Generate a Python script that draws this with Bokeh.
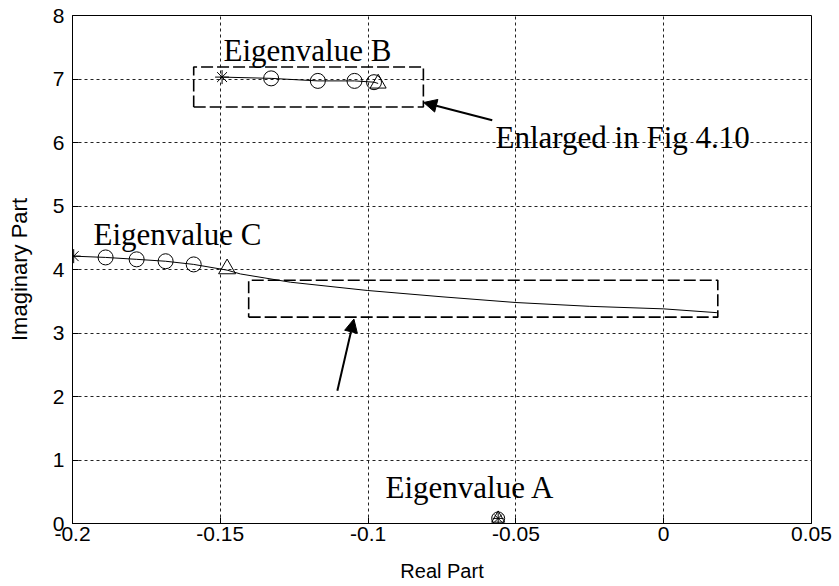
from bokeh.plotting import figure
from bokeh.models import Range1d, Arrow, NormalHead, FixedTicker
from bokeh.core.properties import value
from bokeh.embed import file_html
from bokeh.resources import INLINE

# ---- data ----
# Eigenvalue C trajectory (solid line)
c_line_x = [-0.1996, -0.1888, -0.1783, -0.1685, -0.159, -0.1477, -0.1432, -0.1263, -0.1003, -0.075, -0.05, -0.025, 0.0, 0.018]
c_line_y = [4.21, 4.19, 4.16, 4.13, 4.08, 3.99, 3.93, 3.80, 3.67, 3.57, 3.48, 3.42, 3.38, 3.32]
c_star = ([-0.1996], [4.21])
c_circ_x = [-0.1888, -0.1783, -0.1685, -0.159]
c_circ_y = [4.19, 4.16, 4.13, 4.08]
c_tri = ([-0.1477], [4.01])

# Eigenvalue B trajectory
b_line_x = [-0.1494, -0.1328, -0.117, -0.1046, -0.098, -0.0966]
b_line_y = [7.03, 7.01, 6.97, 6.97, 6.95, 6.93]
b_star = ([-0.1494], [7.03])
b_circ_x = [-0.1328, -0.117, -0.1046, -0.098]
b_circ_y = [7.01, 6.97, 6.97, 6.95]
b_tri = ([-0.0966], [6.93])

# Eigenvalue A (all markers coincide)
a_x = [-0.056]
a_y = [0.08]

# Dashed boxes [x0, x1, y0, y1]
box_b = [-0.159, -0.0813, 6.56, 7.19]
box_c = [-0.1404, 0.0183, 3.25, 3.83]

# Annotations
label_text = ["Eigenvalue B", "Enlarged in Fig 4.10", "Eigenvalue C", "Eigenvalue A"]
label_x = [-0.1489, -0.0569, -0.1929, -0.0941]
label_y = [7.45, 6.08, 4.55, 0.57]

x_ticks = [-0.2, -0.15, -0.1, -0.05, 0.0, 0.05]
x_tick_labels = ["-0.2", "-0.15", "-0.1", "-0.05", "0", "0.05"]
y_ticks = [0, 1, 2, 3, 4, 5, 6, 7, 8]

# ---- figure ----
p = figure(width=839, height=586, output_backend="svg", toolbar_location=None,
           x_range=Range1d(-0.2, 0.05), y_range=Range1d(0, 8),
           min_border_left=72, min_border_right=28, min_border_top=15, min_border_bottom=63,
           background_fill_color="white", border_fill_color="white")

p.outline_line_color = "black"
p.outline_line_width = 1

p.xaxis.ticker = FixedTicker(ticks=x_ticks)
p.xaxis.major_label_overrides = {t: l for t, l in zip(x_ticks, x_tick_labels)}
p.yaxis.ticker = FixedTicker(ticks=y_ticks)

for ax in (p.xaxis, p.yaxis):
    ax.axis_line_color = "black"
    ax.major_tick_line_color = "black"
    ax.major_tick_in = 6
    ax.major_tick_out = 0
    ax.minor_tick_line_color = None
    ax.major_label_text_font = "Liberation Sans"
    ax.major_label_text_font_size = "21px"
    ax.major_label_text_color = "black"
    ax.axis_label_text_font = "Liberation Sans"
    ax.axis_label_text_font_style = "normal"
    ax.axis_label_text_color = "black"

p.xaxis.axis_label_text_font_size = "20px"
p.yaxis.axis_label_text_font_size = "22px"
p.xaxis.axis_label = "Real Part"
p.yaxis.axis_label = "Imaginary Part"
p.xaxis.major_label_standoff = 3
p.yaxis.major_label_standoff = 8
p.xaxis.axis_label_standoff = 16
p.yaxis.axis_label_standoff = 18

p.grid.grid_line_color = "#222222"
p.grid.grid_line_dash = "3 3"
p.grid.grid_line_width = 1

# dashed boxes
for bx in (box_b, box_c):
    p.line([bx[0], bx[1], bx[1], bx[0], bx[0]], [bx[2], bx[2], bx[3], bx[3], bx[2]],
           line_color="black", line_width=1.6, line_dash="12 4")

# trajectories
p.line(c_line_x, c_line_y, line_color="black", line_width=1)
p.line(b_line_x, b_line_y, line_color="black", line_width=1)

mk = dict(line_color="black", fill_color=None, line_width=1)
p.scatter(c_circ_x, c_circ_y, marker="circle", size=15, **mk)
p.scatter(b_circ_x, b_circ_y, marker="circle", size=15, **mk)
p.scatter(c_star[0], c_star[1], marker="asterisk", size=14, **mk)
p.scatter(b_star[0], b_star[1], marker="asterisk", size=14, **mk)
p.scatter(c_tri[0], c_tri[1], marker="triangle", size=17, **mk)
p.scatter(b_tri[0], b_tri[1], marker="triangle", size=16, **mk)
p.scatter(a_x, a_y, marker="circle", size=13, **mk)
p.scatter(a_x, a_y, marker="asterisk", size=11, **mk)
p.scatter(a_x, a_y, marker="triangle", size=13, **mk)

# labels
p.text(label_x, label_y, text=label_text, text_font=value("Liberation Serif"),
       text_font_size="31px", text_color="black", text_baseline="alphabetic", text_align="left")

# arrows
p.add_layout(Arrow(end=NormalHead(size=13, fill_color="black", line_color="black"),
                   x_start=-0.058, y_start=6.35, x_end=-0.0812, y_end=6.63,
                   line_width=2, line_color="black"))
p.add_layout(Arrow(end=NormalHead(size=13, fill_color="black", line_color="black"),
                   x_start=-0.1104, y_start=2.09, x_end=-0.1048, y_end=3.22,
                   line_width=2, line_color="black"))

open("out.html", "w").write(file_html(p, INLINE))
